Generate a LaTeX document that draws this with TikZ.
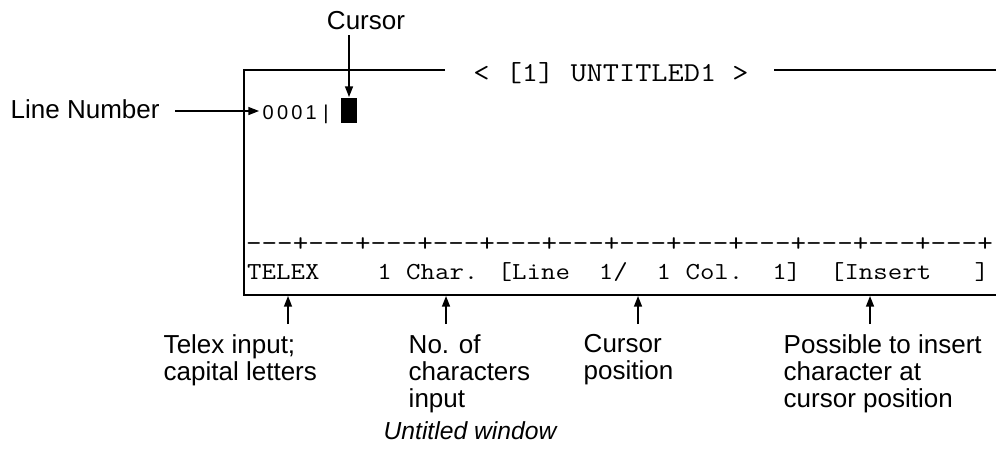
\documentclass[tikz,border=0pt]{standalone}
\usepackage{fontspec}
\setmainfont{Liberation Sans}
\usetikzlibrary{arrows.meta}
\newcommand{\wmono}[2]{\scalebox{1.15}[1]{\ttfamily\fontsize{#1}{#1}\selectfont #2}}
\begin{document}
\begin{tikzpicture}[x=0.75pt,y=-0.75pt,
  line width=1.1pt,
  arr/.style={-{Triangle[length=8pt,width=6pt]}},
  sanslbl/.style={font=\fontsize{19.5}{20.25}\selectfont, inner sep=0pt},
  lbl/.style={sanslbl, align=left, anchor=north west},
  capt/.style={font=\fontsize{18.5}{22.5}\selectfont\itshape, inner sep=0pt, anchor=base},
  mono/.style={inner sep=0pt, anchor=base west},
]
\useasboundingbox (0,0) rectangle (996,468);
% window frame
\coordinate (tl) at (244,70);
\coordinate (bl) at (244,295);
\coordinate (br) at (996,295);
\coordinate (tr) at (996,70);
\coordinate (t1) at (445,70);
\coordinate (t2) at (774,70);
\draw (t1) -- (tl) -- (bl) -- (br);
\draw (t2) -- (tr);
\node[inner sep=0pt, anchor=base] (title) at (611,81) {\wmono{20.5}{< [1] UNTITLED1 >}};
% line number and cursor
\node[font=\fontsize{15}{18}\selectfont, inner sep=0pt, anchor=base west] (num) at (262,119) {0\hspace{2.4pt}0\hspace{2.4pt}0\hspace{2.4pt}1\hspace{5pt}|};
\node[fill=black, inner sep=0pt, minimum width=12pt, minimum height=19pt, anchor=north] (cur) at (349,97) {};
\node[sanslbl, anchor=base] (curlbl) at (366,29.5) {Cursor};
\coordinate (cs) at (349,35);
\draw[arr] (cs) -- (cur.north);
\node[sanslbl, anchor=base west] (lnlbl) at (10,118) {Line Number};
\coordinate (ls) at (175,111);
\coordinate (le) at (259,111);
\draw[arr] (ls) -- (le);
% ruler and status line
\node[mono] (ruler) at (245.4,251) {\wmono{19.7}{---+---+---+---+---+---+---+---+---+---+---+---+}};
\node[mono] (status) at (246.5,279) {\wmono{18.3}{TELEX\ \ \ \ 1 Char. [Line\ \ 1/\ \ 1 Col.\ \ 1]\ \ [Insert\ \ \ ]}};
% bottom arrows and labels
\foreach \n/\x in {a/288,b/446,c/638,d/870}{
  \coordinate (\n s) at (\x,324);
  \coordinate (\n e) at (\x,296);
  \draw[arr] (\n s) -- (\n e);
}
\node[lbl] (la) at (163,334) {Telex input;\\capital letters};
\node[lbl] (lb) at (408,334) {No. of\\characters\\input};
\node[lbl] (lc) at (583,334) {Cursor\\position};
\node[lbl] (ld) at (783,334) {Possible to insert\\character at\\cursor position};
\node[capt] (cap) at (470,439) {Untitled window};
\end{tikzpicture}
\end{document}
